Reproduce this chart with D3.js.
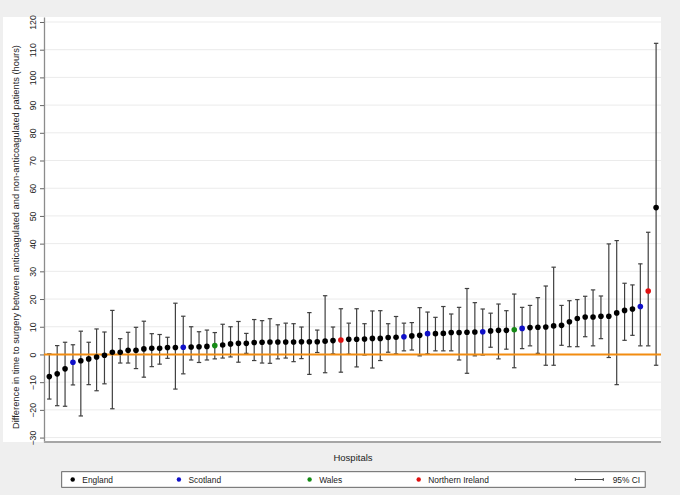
<!DOCTYPE html>
<html><head><meta charset="utf-8">
<script src="https://cdn.jsdelivr.net/npm/d3@7"></script>
<style>
body{margin:0;background:#efefef;}
svg{display:block;font-family:"Liberation Sans",Arial,sans-serif;}
</style>
</head><body>
<svg id="c" width="680" height="495"></svg>
<script>
// ---- data ----
const hospitalCountry = ["E","E","E","S","E","E","E","E","E","E","E","E","E","E","E","E","E","S","E","E",
  "E","W","E","E","E","E","E","E","E","E","E","E","E","E","E","E","E","N","E","E",
  "E","E","E","E","E","S","E","E","S","E","E","E","E","E","E","S","E","E","E","W",
  "S","E","E","E","E","E","E","E","E","E","E","E","E","E","E","S","N","E"];
const estimate = [-8.0,-7.0,-5.2,-2.8,-2.3,-1.6,-0.9,-0.3,0.8,0.8,1.5,1.5,2.0,2.2,2.2,2.5,2.5,2.6,2.7,2.8,
  2.9,3.2,3.4,3.8,4.0,4.0,4.3,4.4,4.5,4.5,4.5,4.5,4.6,4.6,4.6,4.8,5.0,5.2,5.5,5.5,
  5.6,5.8,5.8,6.1,6.2,6.4,6.7,6.9,7.5,7.5,7.6,7.9,7.9,8.0,8.1,8.2,8.5,8.7,8.7,8.9,
  9.4,9.7,9.8,9.9,10.3,10.5,11.8,13.0,13.5,13.5,13.8,13.8,15.0,15.9,16.4,17.3,22.9,53.0];
const lowerCI = [-16.1,-18.5,-18.7,-11.0,-22.2,-10.9,-13.1,-10.6,-19.6,-3.1,-3.1,-5.1,-8.2,-4.4,-3.5,-1.4,-12.5,-7.0,-2.0,-2.9,
  -2.0,-1.6,-1.3,-0.9,-2.8,0.4,-2.2,-3.1,-3.2,-1.6,-1.3,-2.6,-1.5,-7.2,0.7,-6.6,0.2,-6.4,0.1,-4.5,
  -0.2,-4.9,-2.2,0.8,0.2,1.3,1.6,-0.5,0.2,1.3,1.3,1.3,-2.0,-6.8,-0.5,-0.2,2.6,-1.6,1.9,-4.8,
  2.1,3.1,0.4,-3.9,-3.9,3.3,2.8,2.8,6.4,3.1,5.7,-1.1,-10.9,5.1,6.9,3.1,3.1,-3.9];
const upperCI = [0.2,3.2,4.4,3.5,8.4,4.4,9.2,8.1,15.9,5.7,8.0,9.8,12.0,7.5,7.2,6.2,18.5,13.8,10.0,8.2,
  8.8,7.9,10.9,10.0,11.9,7.6,12.6,12.2,12.9,10.7,11.3,11.1,9.9,15.1,8.8,21.2,9.9,16.5,11.3,16.5,
  11.1,15.7,15.8,11.1,13.7,11.3,11.5,16.9,15.3,13.4,17.3,14.6,17.0,23.8,18.7,16.4,14.9,18.2,15.8,21.8,
  17.0,17.7,20.5,24.7,31.5,17.7,19.4,19.8,21.0,23.3,21.1,39.9,41.1,25.7,25.1,32.7,44.1,112.3];
const yTickValues = [-30,-20,-10,0,10,20,30,40,50,60,70,80,90,100,110,120];
const countryCodes = ["E","S","W","N"];
const countryNames = ["England","Scotland","Wales","Northern Ireland"];
const countryColors = ["#000000","#1010c8","#158a15","#e01010"];
const ciLabel = "95% CI";
const xTitle = "Hospitals";
const yTitle = "Difference in time to surgery between anticoagulated and non-anticoagulated patients (hours)";

// ---- layout ----
const svg = d3.select("#c");
const plot = {left:44, right:661, top:17, bottom:442};
const hospitals = estimate.map((d,i)=>i);

const x = d3.scalePoint().domain(hospitals).range([49.3, 656.1]);
const y = d3.scaleLinear().domain([-31.6, 121.8]).range([plot.bottom, plot.top]);
const color = d3.scaleOrdinal().domain(countryCodes).range(countryColors);

// backgrounds
svg.append("rect").attr("x",0).attr("y",0).attr("width",680).attr("height",495).attr("fill","#efefef");
svg.append("rect").attr("x",3).attr("y",plot.top).attr("width",plot.right-3).attr("height",plot.bottom-plot.top).attr("fill","#ffffff");

// gridlines
svg.append("g").selectAll("line").data(yTickValues).join("line")
  .attr("x1",plot.left).attr("x2",plot.right)
  .attr("y1",d=>y(d)).attr("y2",d=>y(d))
  .attr("stroke","#ebebeb").attr("stroke-width",1);

// y axis
const yAxis = svg.append("g").attr("transform",`translate(${plot.left},0)`)
  .call(d3.axisLeft(y).tickValues(yTickValues).tickSize(4).tickSizeOuter(0));
yAxis.select(".domain").attr("stroke","#8c8c8c").attr("stroke-width",1.3);
yAxis.selectAll(".tick line").attr("stroke","#666");
yAxis.selectAll(".tick text")
  .attr("transform","rotate(-90)")
  .attr("x",0).attr("y",-8.4).attr("dy",0)
  .attr("text-anchor","middle")
  .attr("fill","#222").style("font-size","8.8px").style("font-family","'Liberation Sans',Arial,sans-serif");

// x axis line (no ticks)
svg.append("line").attr("x1",plot.left).attr("x2",plot.right).attr("y1",plot.bottom).attr("y2",plot.bottom)
  .attr("stroke","#a6a6a6").attr("stroke-width",1.8);

// error bars
const cap = 2.2;
const bars = svg.append("g").attr("stroke","#404040").attr("stroke-width",1.2);
hospitals.forEach(i=>{
  bars.append("line").attr("x1",x(i)).attr("x2",x(i)).attr("y1",y(lowerCI[i])).attr("y2",y(upperCI[i]));
  bars.append("line").attr("x1",x(i)-cap).attr("x2",x(i)+cap).attr("y1",y(lowerCI[i])).attr("y2",y(lowerCI[i]));
  bars.append("line").attr("x1",x(i)-cap).attr("x2",x(i)+cap).attr("y1",y(upperCI[i])).attr("y2",y(upperCI[i]));
});

// reference line at zero
svg.append("line").attr("x1",plot.left).attr("x2",plot.right).attr("y1",y(0)).attr("y2",y(0))
  .attr("stroke","#f28c10").attr("stroke-width",2);

// points
svg.append("g").selectAll("circle").data(hospitals).join("circle")
  .attr("cx",i=>x(i)).attr("cy",i=>y(estimate[i])).attr("r",2.8)
  .attr("fill",i=>color(hospitalCountry[i]));

// axis titles
svg.append("text").attr("x",353).attr("y",460.5).attr("text-anchor","middle")
  .attr("fill","#222").style("font-size","9.5px").text(xTitle);
svg.append("text").attr("transform","translate(18.8,237) rotate(-90)").attr("text-anchor","middle")
  .attr("fill","#222").style("font-size","9.3px").text(yTitle);

// legend
const lg = svg.append("g");
lg.append("rect").attr("x",61.7).attr("y",471.7).attr("width",583.5).attr("height",15.6)
  .attr("fill","#ffffff").attr("stroke","#555").attr("stroke-width",0.9);
const legendX = [72.7,178.9,309.6,418.7];
countryNames.forEach((n,k)=>{
  lg.append("circle").attr("cx",legendX[k]).attr("cy",479.5).attr("r",2.2).attr("fill",countryColors[k]);
  lg.append("text").attr("x",legendX[k]+9.6).attr("y",482.6).attr("fill","#222").style("font-size","8.4px").text(n);
});
lg.append("line").attr("x1",575.3).attr("x2",603.3).attr("y1",479.5).attr("y2",479.5).attr("stroke","#333").attr("stroke-width",0.9);
lg.append("line").attr("x1",575.3).attr("x2",575.3).attr("y1",478).attr("y2",481).attr("stroke","#333").attr("stroke-width",0.9);
lg.append("line").attr("x1",603.3).attr("x2",603.3).attr("y1",478).attr("y2",481).attr("stroke","#333").attr("stroke-width",0.9);
lg.append("text").attr("x",612.7).attr("y",482.6).attr("fill","#222").style("font-size","8.4px").text(ciLabel);
</script>
</body></html>
